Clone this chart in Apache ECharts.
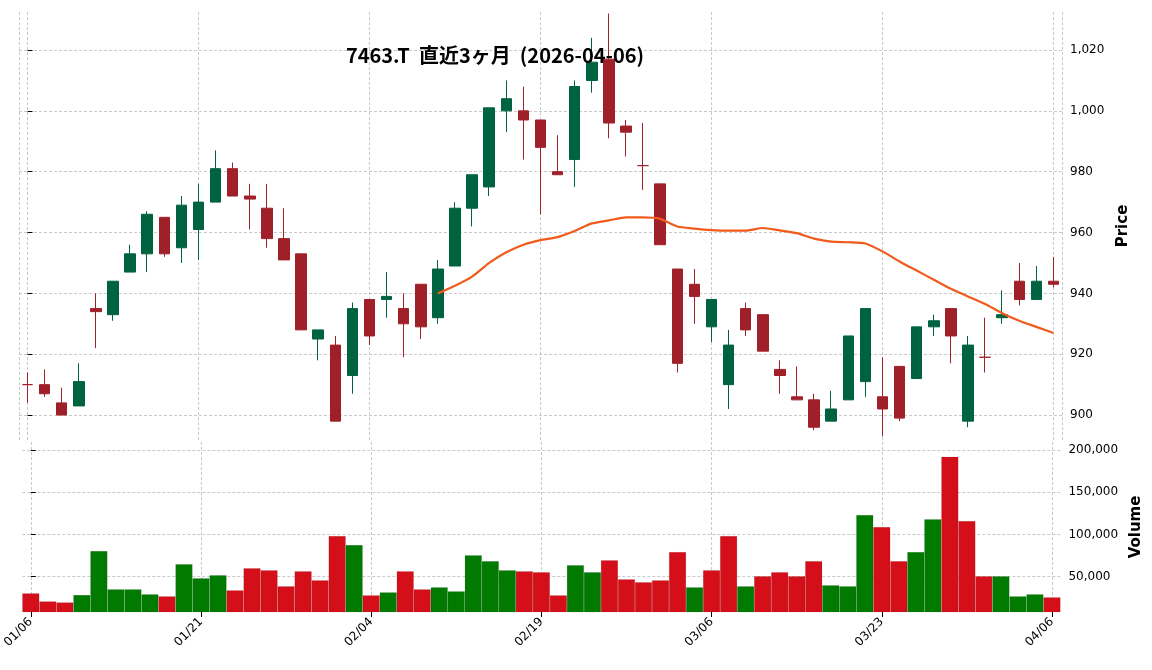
<!DOCTYPE html>
<html>
<head>
<meta charset="utf-8">
<script src="https://cdn.jsdelivr.net/npm/echarts@6/dist/echarts.min.js"></script>
<style>
  html, body { margin: 0; padding: 0; background: #fff; }
  #chart { width: 1152px; height: 670px; }
</style>
</head>
<body>
<div id="chart"></div>
<script>
// [open, close, low, high]
const ohlc = [
  [910, 910, 904, 914], [910, 907, 906, 915], [904, 900, 900, 909], [903, 911, 903, 917],
  [935, 934, 922, 940], [933, 944, 931, 944], [947, 953, 947, 956], [953, 966, 947, 967],
  [965, 953, 952, 965], [955, 969, 950, 972], [961, 970, 951, 976], [970, 981, 970, 987],
  [981, 972, 972, 983], [972, 971, 961, 976], [968, 958, 955, 976], [958, 951, 951, 968],
  [953, 928, 928, 953], [925, 928, 918, 928], [923, 898, 898, 926], [913, 935, 907, 937],
  [938, 926, 923, 938], [938, 939, 932, 947], [935, 930, 919, 940], [943, 929, 925, 943],
  [932, 948, 930, 951], [949, 968, 949, 970], [968, 979, 962, 979], [975, 1001, 972, 1001],
  [1000, 1004, 993, 1010], [1000, 997, 984, 1008], [997, 988, 966, 997], [980, 979, 979, 992],
  [984, 1008, 975, 1010], [1010, 1016, 1006, 1024], [1017, 996, 991, 1032], [995, 993, 985, 997],
  [982, 982, 974, 996], [976, 956, 956, 976], [948, 917, 914, 948], [943, 939, 930, 948],
  [929, 938, 924, 938], [910, 923, 902, 928], [935, 928, 926, 937], [933, 921, 921, 933],
  [915, 913, 907, 918], [906, 905, 905, 916], [905, 896, 895, 907], [898, 902, 898, 908],
  [905, 926, 905, 926], [911, 935, 906, 935], [906, 902, 893, 919], [916, 899, 898, 916],
  [912, 929, 912, 929], [929, 931, 926, 933], [935, 926, 917, 935], [898, 923, 896, 926],
  [919, 919, 914, 932], [932, 933, 930, 941], [944, 938, 936, 950], [938, 944, 938, 949],
  [944, 943, 942, 952]
];

const ma25 = [
  null, null, null, null, null, null, null, null, null, null, null, null,
  null, null, null, null, null, null, null, null, null, null, null, null,
  940, 942.5, 945.5, 950, 953.5, 956, 957.5, 958.5, 960.5, 963, 964, 965,
  965, 964.5, 962, 961.3, 960.8, 960.6, 960.6, 961.5, 960.7, 959.8, 958, 957,
  956.8, 956.4, 953.8, 950.5, 947.5, 944.5, 941.5, 939, 936.5, 933.5, 931, 929,
  927
];

const volume = [
  30150, 20600, 19400, 28200, 80200, 34900, 34900, 29000, 26600, 64700, 48000, 51600,
  33700, 59900, 57500, 38500, 56300, 45600, 98000, 87300, 27800, 31300, 56300, 34900,
  37300, 32500, 75400, 68300, 57500, 56300, 55200, 27800, 63500, 55200, 69400, 46800,
  43300, 45600, 79000, 37300, 57500, 98000, 38500, 50400, 55200, 50400, 68300, 39700,
  38500, 123000, 108700, 68300, 79000, 118000, 192000, 115900, 50400, 50400, 26600, 29000,
  25400
];

// 1 = green, 0 = red
const volUp = [
  0, 0, 0, 1, 1, 1, 1, 1, 0, 1, 1, 1, 0, 0, 0, 0, 0, 0, 0, 1, 0, 1, 0, 0,
  1, 1, 1, 1, 1, 0, 0, 0, 1, 1, 0, 0, 0, 0, 0, 1, 0, 0, 1, 0, 0, 0, 0, 1,
  1, 1, 0, 0, 1, 1, 0, 0, 0, 1, 1, 1, 0
];

const tickIdx = [0, 10, 20, 30, 40, 50, 60];
const tickLabels = ["01/06", "01/21", "02/04", "02/19", "03/06", "03/23", "04/06"];
const priceTicks = [900, 920, 940, 960, 980, 1000, 1020];
const volTicks = [50000, 100000, 150000, 200000];

const font = "DejaVu Sans";
const gridLine = { show: true, lineStyle: { color: "#bbb", type: [3, 2], width: 0.8 } };

const candleData = ohlc.map((d, i) => [i, d[0], d[1], d[2], d[3]]);
const maData = ma25.map((v, i) => [i, v]);
const volData = volume.map((v, i) => ({
  value: [i, v],
  itemStyle: { color: volUp[i] ? "#007a00" : "#d40f1a" },
}));

const xCommon = {
  type: "value",
  min: -0.5,
  max: 60.5,
  axisLine: { show: false },
  splitLine: gridLine,
  axisTick: { customValues: tickIdx, length: 5, lineStyle: { color: "#000" } },
};

const chart = echarts.init(document.getElementById("chart"));
chart.setOption({
  animation: false,
  backgroundColor: "#fff",
  title: {
    text: "7463.T  直近3ヶ月  (2026-04-06)",
    left: 490,
    top: 40,
    textAlign: "center",
    textStyle: { fontFamily: "Noto Sans CJK JP", fontWeight: "bold", fontSize: 20, color: "#000" },
  },
  grid: [
    { left: 19, right: 90, top: 12, height: 428 },
    { left: 19, right: 90, top: 442, height: 170 },
  ],
  xAxis: [
    { ...xCommon, gridIndex: 0, axisTick: { show: false }, axisLabel: { show: false, customValues: tickIdx } },
    {
      ...xCommon,
      gridIndex: 1,
      axisLabel: {
        customValues: tickIdx,
        rotate: 45,
        fontFamily: font,
        fontSize: 12,
        color: "#000",
        formatter: (v) => tickLabels[tickIdx.indexOf(Math.round(v))] || "",
      },
    },
  ],
  yAxis: [
    {
      type: "value",
      gridIndex: 0,
      position: "right",
      min: 891.8,
      max: 1032.5,
      name: "Price",
      nameLocation: "middle",
      nameGap: 50,
      nameRotate: 90,
      nameTextStyle: { fontFamily: font, fontSize: 15, fontWeight: "bold", color: "#000" },
      axisLine: { show: false },
      axisTick: { show: true, customValues: priceTicks, length: 5, lineStyle: { color: "#000" } },
      axisLabel: { customValues: priceTicks, fontFamily: font, fontSize: 12, color: "#000", margin: 8 },
      splitLine: gridLine,
    },
    {
      type: "value",
      gridIndex: 1,
      position: "right",
      min: 8000,
      max: 209500,
      name: "Volume",
      nameLocation: "middle",
      nameGap: 68,
      nameRotate: 90,
      nameTextStyle: { fontFamily: font, fontSize: 15, fontWeight: "bold", color: "#000" },
      axisLine: { show: false },
      axisTick: { show: true, customValues: volTicks, length: 5, lineStyle: { color: "#000" } },
      axisLabel: { customValues: volTicks, fontFamily: font, fontSize: 12, color: "#000", margin: 8 },
      splitLine: gridLine,
    },
  ],
  series: [
    {
      name: "Candle",
      type: "candlestick",
      xAxisIndex: 0,
      yAxisIndex: 0,
      data: candleData,
      barWidth: 11,
      itemStyle: {
        color: "#006340",
        color0: "#a0202a",
        borderColor: "#006340",
        borderColor0: "#a0202a",
        borderColorDoji: "#a0202a",
        borderWidth: 1,
      },
    },
    {
      name: "MA25",
      type: "line",
      xAxisIndex: 0,
      yAxisIndex: 0,
      data: maData,
      showSymbol: false,
      smooth: 0.2,
      lineStyle: { color: "#f05a1a", width: 2.2 },
    },
    {
      name: "Volume",
      type: "bar",
      xAxisIndex: 1,
      yAxisIndex: 1,
      data: volData,
      barWidth: 17.1,
      itemStyle: { borderColor: "rgba(0,0,0,0.15)", borderWidth: 0.5 },
    },
  ],
});
</script>
</body>
</html>
